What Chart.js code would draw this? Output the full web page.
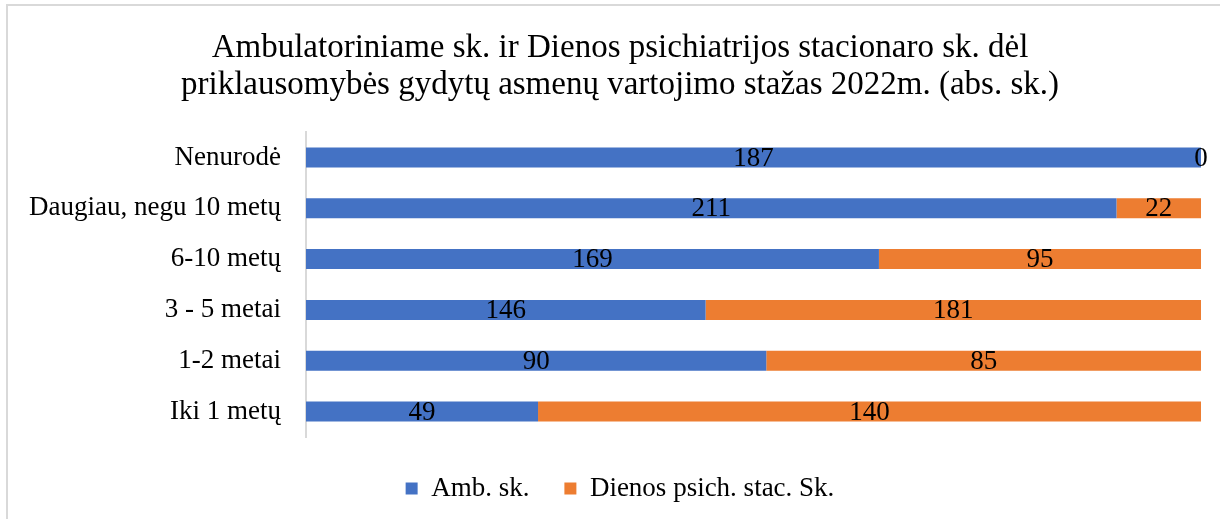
<!DOCTYPE html>
<html>
<head>
<meta charset="utf-8">
<script src="https://cdn.jsdelivr.net/npm/chart.js@4.4.1/dist/chart.umd.min.js"></script>
<style>
  html, body { margin: 0; padding: 0; background: #ffffff; }
  #wrap { position: relative; width: 1220px; height: 519px; overflow: hidden; }
  #frame { position: absolute; left: 6px; top: 4px; width: 1300px; height: 600px;
           border-top: 2px solid #d9d9d9; border-left: 2px solid #d9d9d9; box-sizing: border-box; }
  canvas { position: absolute; left: 0; top: 0; }
</style>
</head>
<body>
<div id="wrap">
  <div id="frame"></div>
  <canvas id="c" width="1220" height="519"></canvas>
</div>
<script>
// ---- data ----
const categories = ["Nenurodė", "Daugiau, negu 10 metų", "6-10 metų", "3 - 5 metai", "1-2 metai", "Iki 1 metų"];
const ambValues = [187, 211, 169, 146, 90, 49];
const stacValues = [0, 22, 95, 181, 85, 140];
const seriesNames = ["Amb. sk.", "Dienos psich. stac. Sk."];
const titleLines = ["Ambulatoriniame sk. ir Dienos psichiatrijos stacionaro sk. dėl",
                    "priklausomybės gydytų asmenų vartojimo stažas 2022m. (abs. sk.)"];

// 100% stacked shares built from the absolute values
const totals = ambValues.map((v, i) => v + stacValues[i]);
const ambPct = ambValues.map((v, i) => v / totals[i] * 100);
const stacPct = stacValues.map((v, i) => v / totals[i] * 100);

const FONT = "'Liberation Serif', 'Times New Roman', serif";

const labelPlugin = {
  id: 'segLabels',
  afterLayout(chart) {
    // centre title and legend on the same axis as the reference
    if (chart.titleBlock) chart.titleBlock.left = 39;
    if (chart.legend) chart.legend.left = 39;
  },
  afterDatasetsDraw(chart) {
    const ctx = chart.ctx;
    ctx.save();
    ctx.font = "27px " + FONT;
    ctx.fillStyle = "#000000";
    ctx.textAlign = "center";
    ctx.textBaseline = "middle";
    chart.data.datasets.forEach((ds, di) => {
      const meta = chart.getDatasetMeta(di);
      meta.data.forEach((el, i) => {
        const p = el.getProps(['x', 'y', 'base'], true);
        const cx = (p.x + p.base) / 2;
        ctx.fillText(String(ds.absValues[i]), cx, p.y + 1);
      });
    });
    ctx.restore();
  }
};

new Chart(document.getElementById('c'), {
  type: 'bar',
  data: {
    labels: categories,
    datasets: [
      { label: seriesNames[0], data: ambPct, absValues: ambValues, backgroundColor: '#4472C4', borderWidth: 0 },
      { label: seriesNames[1], data: stacPct, absValues: stacValues, backgroundColor: '#ED7D31', borderWidth: 0 }
    ]
  },
  options: {
    indexAxis: 'y',
    responsive: false,
    animation: false,
    maintainAspectRatio: false,
    layout: { padding: { left: 0, right: 19, top: 0, bottom: 7 } },
    datasets: { bar: { barPercentage: 0.394, categoryPercentage: 1.0 } },
    scales: {
      x: {
        stacked: true, min: 0, max: 100,
        display: true,
        ticks: { display: false },
        grid: { display: false },
        border: { display: false },
        afterFit: s => { s.height = 3; }
      },
      y: {
        stacked: true,
        ticks: { font: { family: FONT, size: 27 }, color: '#000000', padding: 25 },
        grid: { display: true, drawOnChartArea: false, drawTicks: false },
        border: { display: true, color: '#d9d9d9', width: 2 },
        afterFit: s => { s.width = 306; }
      }
    },
    plugins: {
      title: {
        display: true,
        text: titleLines,
        color: '#000000',
        font: { family: FONT, size: 33, weight: 'normal', lineHeight: 1.12 },
        padding: { top: 29.5, bottom: 28.6 }
      },
      legend: {
        position: 'bottom',
        labels: {
          font: { family: FONT, size: 27 },
          color: '#000000',
          boxWidth: 12, boxHeight: 12,
          padding: 35
        }
      },
      tooltip: { enabled: false }
    }
  },
  plugins: [labelPlugin]
});
</script>
</body>
</html>
